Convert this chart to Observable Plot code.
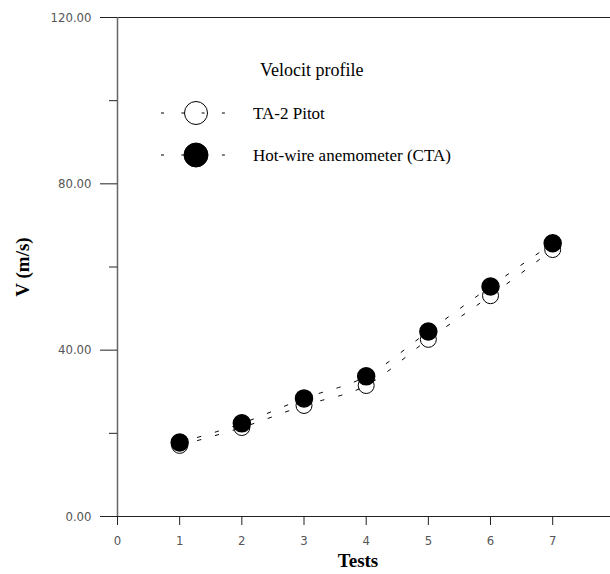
<!DOCTYPE html>
<html><head><meta charset="utf-8">
<script src="https://cdn.jsdelivr.net/npm/d3@7"></script>
<script src="https://cdn.jsdelivr.net/npm/@observablehq/plot@0.6"></script>
<style>body{margin:0;background:#fff}#chart svg{display:block}</style>
</head><body><div id="chart"></div>
<script>
const tests = [1, 2, 3, 4, 5, 6, 7];
const pitot = [17.1, 21.4, 26.7, 31.5, 42.6, 53.1, 64.2];
const cta = [17.8, 22.4, 28.4, 33.7, 44.5, 55.3, 65.7];
const majorYTicks = [0, 40, 80, 120];
const minorYTicks = [20, 60, 100];
const xTicks = [0, 1, 2, 3, 4, 5, 6, 7];
const legendTitle = "Velocit profile";
const seriesNames = ["TA-2 Pitot", "Hot-wire anemometer (CTA)"];
const xLabel = "Tests";
const yLabel = "V (m/s)";

const pitotData = tests.map((t, i) => ({t, v: pitot[i]}));
const ctaData = tests.map((t, i) => ({t, v: cta[i]}));

const tickFont = "'Liberation Sans Narrow', 'DejaVu Sans Condensed', sans-serif";
const serif = "'Liberation Serif', 'Times New Roman', serif";

const chart = Plot.plot({
  width: 610,
  height: 574,
  marginLeft: 117,
  marginTop: 17,
  marginBottom: 58,
  marginRight: 0,
  x: {domain: [0, 7.93]},
  y: {domain: [0, 120]},
  style: {background: "#fff"},
  marks: [
    Plot.ruleY([0, 120], {stroke: "#222", strokeWidth: 1.2}),
    Plot.ruleX([0], {stroke: "#666", strokeWidth: 1.5}),
    Plot.axisY(majorYTicks, {tickSize: 17, tickPadding: 9, tickFormat: d => d.toFixed(2), label: null,
      stroke: "#222", fill: "#555", fontSize: 13, fontFamily: tickFont}),
    Plot.axisY(minorYTicks, {tickSize: 8, tickFormat: () => "", label: null, stroke: "#222"}),
    Plot.axisX(xTicks, {tickSize: 9, tickPadding: 10, label: null, stroke: "#222", fill: "#555",
      fontSize: 13, fontFamily: tickFont}),
    Plot.dot(pitotData, {x: "t", y: "v", r: 8, fill: "#fff", stroke: "#000", strokeWidth: 1}),
    Plot.dot(ctaData, {x: "t", y: "v", r: 8.5, fill: "#000", stroke: "#000"}),
    Plot.line(pitotData, {x: "t", y: "v", stroke: "#000", strokeWidth: 1, strokeDasharray: "3.5,15", curve: "monotone-x"}),
    Plot.line(ctaData, {x: "t", y: "v", stroke: "#000", strokeWidth: 1, strokeDasharray: "3.5,15", curve: "monotone-x"}),
    Plot.text([yLabel], {frameAnchor: "left", textAnchor: "middle", rotate: -90, dx: -95, text: d => d, fontSize: 19, fontWeight: "bold", fontFamily: serif, fill: "#000"}),
    Plot.text([xLabel], {frameAnchor: "bottom", textAnchor: "middle", dx: -6, dy: 50, text: d => d, fontSize: 19, fontWeight: "bold", fontFamily: serif, fill: "#000"})
  ]
});

document.getElementById("chart").appendChild(chart);

// Legend (inside plot area)
const svg = d3.select(chart);
const lg = svg.append("g").attr("font-family", serif).attr("text-anchor", "start");
lg.append("text").attr("x", 260).attr("y", 76).attr("font-size", 18).attr("fill", "#000").text(legendTitle);
const rows = [
  {y: 113, name: seriesNames[0], fill: "#fff", r: 11.5},
  {y: 155, name: seriesNames[1], fill: "#000", r: 12}
];
rows.forEach(row => {
  lg.append("circle").attr("cx", 196).attr("cy", row.y).attr("r", row.r).attr("fill", row.fill).attr("stroke", "#000");
  lg.append("line").attr("x1", 161).attr("x2", 225).attr("y1", row.y).attr("y2", row.y)
    .attr("stroke", "#000").attr("stroke-width", 1).attr("stroke-dasharray", "3,17.3");
  lg.append("text").attr("x", 253).attr("y", row.y + 6).attr("font-size", 17).attr("fill", "#000").text(row.name);
});
</script>
</body></html>
